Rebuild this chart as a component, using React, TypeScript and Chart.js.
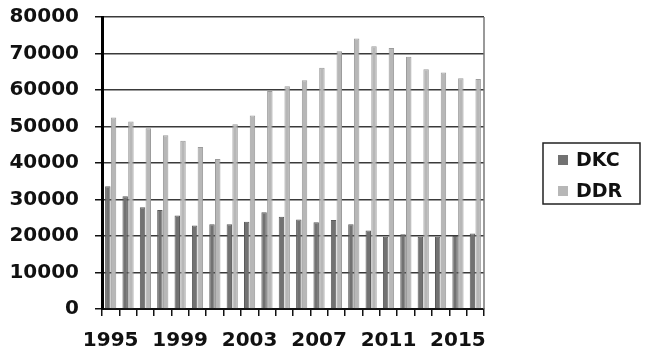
import React, { useEffect, useRef } from "react";
import { Chart, registerables } from "chart.js";

Chart.register(...registerables);

const years = [
  "1995", "1996", "1997", "1998", "1999", "2000", "2001", "2002", "2003", "2004", "2005",
  "2006", "2007", "2008", "2009", "2010", "2011", "2012", "2013", "2014", "2015", "2016",
];
const shownYears = ["1995", "1999", "2003", "2007", "2011", "2015"];
const dkcValues = [
  33600, 30900, 27900, 27100, 25600, 22900, 23200, 23200, 23900, 26500, 25300,
  24500, 23800, 24400, 23200, 21500, 19800, 20500, 19800, 19800, 20000, 20700,
];
const ddrValues = [
  52500, 51400, 49500, 47600, 46100, 44400, 41100, 50600, 53000, 59700, 61000,
  62700, 66100, 70600, 74100, 72000, 71500, 69100, 65700, 64800, 63200, 63000,
];
const seriesNames = ["DKC", "DDR"];
const yMax = 80000;
const yStep = 10000;

const FONT = "'DejaVu Sans', Verdana, sans-serif";

const frameAndLegend = {
  id: "frameAndLegend",
  afterDatasetsDraw(chart: any) {
    const { ctx, chartArea } = chart;
    ctx.save();
    ctx.strokeStyle = "#777";
    ctx.lineWidth = 1.5;
    ctx.beginPath();
    ctx.moveTo(chartArea.right, chartArea.top);
    ctx.lineTo(chartArea.right, chartArea.bottom);
    ctx.stroke();
    ctx.restore();
  },
  afterDraw(chart: any) {
    const { ctx } = chart;
    ctx.save();
    const bx = 543, by = 143, bw = 97, bh = 61;
    ctx.strokeStyle = "#222";
    ctx.lineWidth = 1.5;
    ctx.strokeRect(bx, by, bw, bh);
    ctx.font = `bold 19px ${FONT}`;
    ctx.textBaseline = "middle";
    ctx.textAlign = "left";
    chart.data.datasets.forEach((ds: any, i: number) => {
      const cy = 160 + i * 31;
      ctx.fillStyle = ds.backgroundColor;
      ctx.fillRect(558, cy - 5, 10, 10);
      ctx.fillStyle = "#111";
      ctx.fillText(ds.label, 576, cy + 1);
    });
    ctx.restore();
  },
};

export default function App() {
  const ref = useRef<HTMLCanvasElement | null>(null);
  useEffect(() => {
    if (!ref.current) return;
    const chart = new Chart(ref.current, {
      type: "bar",
      data: {
        labels: years,
        datasets: [
          {
            label: seriesNames[0],
            data: dkcValues,
            backgroundColor: "#727272",
            borderColor: "#5a5a5a",
            borderWidth: 1,
            categoryPercentage: 0.66,
            barPercentage: 0.95,
          },
          {
            label: seriesNames[1],
            data: ddrValues,
            backgroundColor: "#b7b7b7",
            borderColor: "#9c9c9c",
            borderWidth: 1,
            categoryPercentage: 0.66,
            barPercentage: 0.95,
          },
        ],
      },
      options: {
        responsive: false,
        animation: false,
        layout: { padding: { left: 0, top: 17, right: 166, bottom: 0 } },
        plugins: { legend: { display: false }, tooltip: { enabled: false } },
        scales: {
          x: {
            afterFit: (s: any) => { s.height = 50; s.paddingLeft = 0; s.paddingRight = 0; },
            grid: { drawOnChartArea: false, drawTicks: true, tickLength: 7, tickColor: "#111", offset: true, lineWidth: 1.5 },
            border: { color: "#111", width: 2 },
            ticks: {
              autoSkip: false,
              maxRotation: 0,
              padding: 13,
              color: "#111",
              font: { family: FONT, size: 20, weight: "bold" },
              callback: function (this: any, v: any, i: number) {
                const lab = years[i];
                return shownYears.includes(lab) ? lab : "";
              },
            },
          },
          y: {
            min: 0,
            max: yMax,
            afterFit: (s: any) => { s.width = 102; s.paddingTop = 0; s.paddingBottom = 0; },
            grid: { color: "#3a3a3a", lineWidth: 1.5, tickLength: 7, tickColor: "#111" },
            border: { color: "#000", width: 3 },
            ticks: {
              stepSize: yStep,
              padding: 16,
              color: "#111",
              font: { family: FONT, size: 20, weight: "bold" },
              callback: (v: any) => String(v),
            },
          },
        },
      },
      plugins: [frameAndLegend],
    });
    return () => chart.destroy();
  }, []);
  return (
    <div style={{ position: "absolute", left: 0, top: 0, width: 650, height: 359, background: "#fff" }}>
      <canvas ref={ref} width={650} height={359} />
    </div>
  );
}
